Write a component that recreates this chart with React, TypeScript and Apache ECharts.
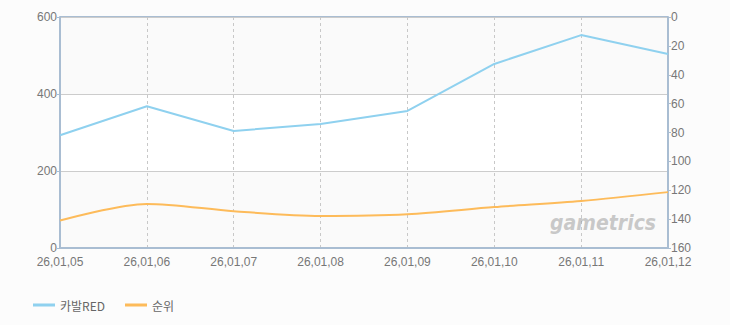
import React, { useEffect, useRef } from "react";
import * as echarts from "echarts";

const categories = ["26,01,05", "26,01,06", "26,01,07", "26,01,08", "26,01,09", "26,01,10", "26,01,11", "26,01,12"];
const redValues = [293, 368, 304, 322, 356, 478, 553, 504];
const rankValues = [141, 129.5, 134.5, 137.8, 136.6, 131.6, 127.4, 121.3];
const leftTicks = { min: 0, max: 600, interval: 200 };
const rightTicks = { min: 0, max: 160, interval: 20 };

export default function App() {
  const ref = useRef<HTMLDivElement>(null);
  useEffect(() => {
    const chart = echarts.init(ref.current!, null, { renderer: "svg" });
    const font = "'Noto Sans CJK KR', 'Noto Sans', sans-serif";
    const numFont = "'Liberation Sans', Arial, sans-serif";
    chart.setOption({
      animation: false,
      backgroundColor: "#fcfcfc",
      textStyle: { fontFamily: font },
      grid: { left: 60, right: 62, top: 17, bottom: 77, containLabel: false },
      legend: {
        left: 28,
        top: 294,
        itemWidth: 22,
        itemHeight: 3,
        itemGap: 20,
        icon: "rect",
        textStyle: { color: "#666", fontSize: 12, fontFamily: font },
        data: ["카발RED", "순위"],
      },
      xAxis: {
        type: "category",
        boundaryGap: false,
        data: categories,
        axisLine: { lineStyle: { color: "#a9bdd2", width: 2 } },
        axisTick: { show: false },
        axisLabel: { color: "#777", fontSize: 12, lineHeight: 12, margin: 8, fontFamily: numFont },
        splitLine: { show: true, lineStyle: { color: "#c8c8c8", type: [3, 3] } },
      },
      yAxis: [
        {
          type: "value",
          min: leftTicks.min,
          max: leftTicks.max,
          interval: leftTicks.interval,
          axisLine: { show: true, lineStyle: { color: "#a9bdd2", width: 2 } },
          axisTick: { show: true, length: 3, lineStyle: { color: "#a9bdd2" } },
          axisLabel: { color: "#777", fontSize: 12, lineHeight: 10, margin: 3, fontFamily: numFont },
          splitLine: { show: true, lineStyle: { color: "#cccccc" } },
          splitArea: { show: true, areaStyle: { color: ["#fafafa", "#ffffff"] } },
        },
        {
          type: "value",
          inverse: true,
          min: rightTicks.min,
          max: rightTicks.max,
          interval: rightTicks.interval,
          position: "right",
          axisLine: { show: true, lineStyle: { color: "#a9bdd2", width: 2 } },
          axisTick: { show: true, length: 3, lineStyle: { color: "#a9bdd2" } },
          axisLabel: { color: "#777", fontSize: 12, lineHeight: 10, margin: 3, fontFamily: numFont },
          splitLine: { show: false },
        },
      ],
      graphic: [
        {
          type: "line",
          shape: { x1: 60, y1: 17, x2: 668, y2: 17 },
          style: { stroke: "#a9bdd2", lineWidth: 2 },
        },
        {
          type: "text",
          x: 550,
          y: 211,
          scaleX: 0.86,
          z: 1,
          style: {
            text: "gametrics",
            fontFamily: "'DejaVu Sans', sans-serif",
            fontSize: 22,
            fontWeight: "bold",
            fontStyle: "italic",
            fill: "rgba(150,150,150,0.5)",
          },
        },
      ],
      series: [
        {
          name: "카발RED",
          type: "line",
          yAxisIndex: 0,
          data: redValues,
          symbol: "none",
          lineStyle: { color: "#8fd1ef", width: 2 },
          itemStyle: { color: "#8fd1ef" },
        },
        {
          name: "순위",
          type: "line",
          yAxisIndex: 1,
          data: rankValues,
          smooth: 0.3,
          symbol: "none",
          lineStyle: { color: "#fdbb5a", width: 2 },
          itemStyle: { color: "#fdbb5a" },
        },
      ],
    });
    return () => chart.dispose();
  }, []);
  return <div ref={ref} style={{ position: "fixed", left: 0, top: 0, width: 730, height: 325 }} />;
}
